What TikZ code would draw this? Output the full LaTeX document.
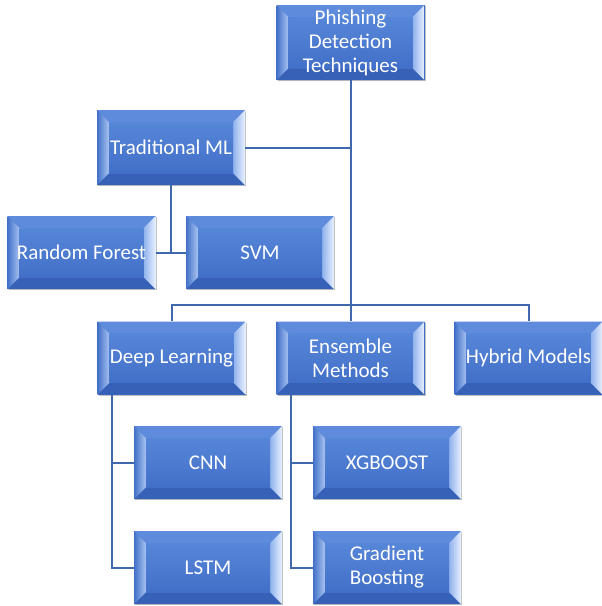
\documentclass[tikz,border=0pt]{standalone}
\usepackage{fontspec}
\setmainfont{Carlito}
\usetikzlibrary{calc,shadows}
\definecolor{face}{HTML}{4270C8}
\definecolor{facetop}{HTML}{5686D8}
\definecolor{bevtop}{HTML}{5E8BDB}
\definecolor{bevbot}{HTML}{3661B6}
\definecolor{bevleft}{HTML}{A9C4F2}
\definecolor{bevrightA}{HTML}{8FB1EC}
\definecolor{bevrightB}{HTML}{E8F1FF}
\definecolor{link}{HTML}{4068AC}
\tikzset{
  bev/.style={rectangle, minimum width=148pt, minimum height=73pt, inner sep=0pt,
    text=white, align=center, font=\fontsize{21}{24}\selectfont, fill=face,
    drop shadow={shadow xshift=1.2pt, shadow yshift=-1.4pt, fill=black!40, opacity=.6},
    path picture={
      \path (path picture bounding box.south west) coordinate (bvsw)
            (path picture bounding box.north east) coordinate (bvne);
      \path (bvsw -| bvne) coordinate (bvse) (bvne -| bvsw) coordinate (bvnw);
      \path ($(bvsw)+(12pt,12pt)$) coordinate (isw)
            ($(bvne)+(-12pt,-12pt)$) coordinate (ine)
            ($(bvse)+(-12pt,12pt)$) coordinate (ise)
            ($(bvnw)+(12pt,-12pt)$) coordinate (inw);
      \fill[bevtop] (bvnw) -- (bvne) -- (ine) -- (inw) -- cycle;
      \fill[bevbot] (bvsw) -- (bvse) -- (ise) -- (isw) -- cycle;
      \shade[left color=face, right color=bevleft] (bvnw) -- (inw) -- (isw) -- (bvsw) -- cycle;
      \shade[left color=bevrightA, right color=bevrightB] (bvne) -- (bvse) -- (ise) -- (ine) -- cycle;
      \shade[top color=facetop, bottom color=face] (inw) rectangle (ise);
    }},
  tall/.style={minimum height=75pt},
  lk/.style={draw=link, line width=2pt}
}
\begin{document}
\begin{tikzpicture}[x=1pt,y=-1pt]
\useasboundingbox (0,0) rectangle (602,606);
% connectors first (behind boxes)
\coordinate (rootc) at (350.5,42.5);
\coordinate (tmlc) at (171,147.5);
\coordinate (rfc) at (81.5,252.5);
\coordinate (svmc) at (260,252.5);
\coordinate (dlc) at (171.5,358);
\coordinate (ensc) at (350.5,358);
\coordinate (hybc) at (528.5,358);
\coordinate (cnnc) at (208,462.5);
\coordinate (lstmc) at (208,567.5);
\coordinate (xgbc) at (387,462.5);
\coordinate (gbc) at (387,567.5);

\node[bev,tall] (root) at (rootc) {Phishing\\Detection\\Techniques};
\node[bev,tall] (tml) at (tmlc) {Traditional ML};
\node[bev] (rf) at (rfc) {Random Forest};
\node[bev] (svm) at (svmc) {SVM};
\node[bev] (dl) at (dlc) {Deep Learning};
\node[bev] (ens) at (ensc) {Ensemble\\Methods};
\node[bev] (hyb) at (hybc) {Hybrid Models};
\node[bev] (cnn) at (cnnc) {CNN};
\node[bev] (lstm) at (lstmc) {LSTM};
\node[bev] (xgb) at (xgbc) {XGBOOST};
\node[bev] (gb) at (gbc) {Gradient\\Boosting};

\draw[lk] (root.south) -- (ens.north);
\draw[lk] (tml.east) -- (root.south |- tml.east);
\draw[lk] (dl.north) -- ++(0,-16) -| (hyb.north);
\draw[lk] (tml.south) -- (tml.south |- rf.east);
\draw[lk] (rf.east) -- (svm.west);
\draw[lk] ([xshift=-59.5pt]dl.south) |- (lstm.west);
\draw[lk] ([xshift=-59.5pt]dl.south |- cnn.west) -- (cnn.west);
\draw[lk] ([xshift=-59.5pt]ens.south) |- (gb.west);
\draw[lk] ([xshift=-59.5pt]ens.south |- xgb.west) -- (xgb.west);
\end{tikzpicture}
\end{document}
